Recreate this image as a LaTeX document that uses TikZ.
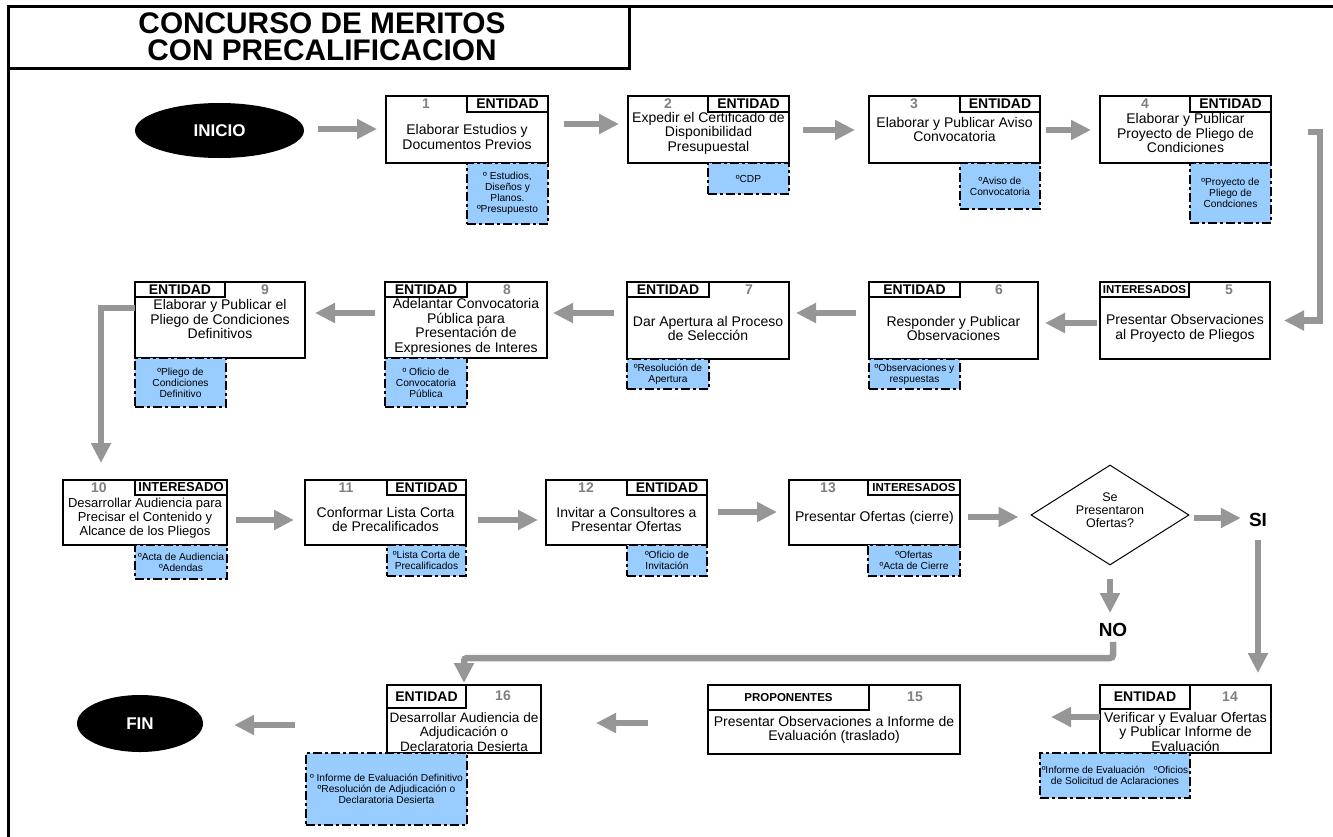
\documentclass[tikz,border=0pt]{standalone}
\usepackage{fontspec}
\setmainfont{Liberation Sans}
\usetikzlibrary{arrows.meta,shapes.geometric}
\definecolor{docblue}{RGB}{153,204,255}
\definecolor{arrgray}{RGB}{150,150,150}
\definecolor{numgray}{RGB}{128,128,128}
\newcommand{\mkbox}[7][]{\node[#1, minimum width={(#5-#3)*1pt}, minimum height={(#6-#4)*1pt}] (#2) at ({(#3+#5)/2},{(#4+#6)/2}) {#7};}
\tikzset{
  framest/.style={line width=3pt, line cap=rect},
  boxst/.style={draw, line width=2.2pt, fill=white, inner sep=0pt, outer sep=0pt},
  tagst/.style={draw, line width=2.2pt, fill=white, inner sep=0pt, outer sep=0pt, font=\bfseries\fontsize{14}{14}\selectfont},
  smalltag/.style={font=\bfseries\fontsize{11.5}{11.5}\selectfont},
  docst/.style={draw, line width=2.5pt, fill=docblue, dash pattern=on 9pt off 3pt on 3pt off 3pt, inner sep=0pt, outer sep=0pt, align=center, font=\fontsize{10.2}{11}\selectfont},
  garrow/.style={draw=arrgray, line width=6.5pt, -{Triangle[length=20pt,width=19pt]}},
  bodytxt/.style={align=center, inner sep=0pt, font=\fontsize{14}{14.5}\selectfont},
  numtxt/.style={inner sep=0pt, text=numgray, font=\bfseries\fontsize{14}{14}\selectfont},
  bigtxt/.style={inner sep=0pt, font=\bfseries\fontsize{29.8}{29.8}\selectfont},
  ovalst/.style={ellipse, fill=black, inner sep=0pt, text=white, font=\bfseries\fontsize{17}{17}\selectfont},
  decst/.style={inner sep=0pt, font=\bfseries\fontsize{19}{19}\selectfont},
}
\begin{document}
\begin{tikzpicture}[x=1pt,y=-1pt]
\useasboundingbox (0,0) rectangle (1333,836);
% frame and title
\draw[framest] (8,840) -- (8,6) -- (1340,6);
\draw[framest] (8,68) -- (629,68) -- (629,6);
\node[bigtxt] (tit1) at (322,23) {CONCURSO DE MERITOS};
\node[bigtxt] (tit2) at (322,50) {CON PRECALIFICACION};

% start / end
\node[ovalst, minimum width=169pt, minimum height=55pt] (ini) at (219.5,130.5) {INICIO};
\node[ovalst, minimum width=126pt, minimum height=57pt] (fin) at (140,723.5) {FIN};

% ---------- row 1
\mkbox[boxst]{b1}{386}{96}{548}{163}{}
\mkbox[docst]{d1}{467}{163}{548}{224}{º Estudios,\\Diseños y\\Planos.\\ºPresupuesto}
\mkbox[tagst]{b1t}{467}{96}{548}{112}{ENTIDAD}
\node[numtxt] (b1n) at (426,104) {1};
\node[bodytxt] (b1x) at (467,137) {Elaborar Estudios y\\Documentos Previos};

\mkbox[boxst]{b2}{628}{96}{789}{163}{}
\mkbox[docst]{d2}{708}{163}{789}{194}{ºCDP}
\mkbox[tagst]{b2t}{708}{96}{789}{112}{ENTIDAD}
\node[numtxt] (b2n) at (668,104) {2};
\node[bodytxt] (b2x) at (708.5,133) {Expedir el Certificado de\\Disponibilidad\\Presupuestal};

\mkbox[boxst]{b3}{869}{96}{1040}{163}{}
\mkbox[docst]{d3}{960}{163}{1040}{209}{ºAviso de\\Convocatoria}
\mkbox[tagst]{b3t}{960}{96}{1040}{112}{ENTIDAD}
\node[numtxt] (b3n) at (914,104) {3};
\node[bodytxt] (b3x) at (954.5,129.5) {Elaborar y Publicar Aviso\\Convocatoria};

\mkbox[boxst]{b4}{1100}{96}{1271}{163}{}
\mkbox[docst]{d4}{1190}{163}{1271}{223}{ºProyecto de\\Pliego de\\Condciones}
\mkbox[tagst]{b4t}{1190}{96}{1271}{112}{ENTIDAD}
\node[numtxt] (b4n) at (1145,104) {4};
\node[bodytxt] (b4x) at (1185.5,133) {Elaborar y Publicar\\Proyecto de Pliego de\\Condiciones};

% ---------- row 2
\mkbox[boxst]{b5}{1100}{282}{1270}{359}{}
\mkbox[tagst,smalltag]{b5t}{1100}{282}{1189}{297}{INTERESADOS}
\node[numtxt] (b5n) at (1229,290) {5};
\node[bodytxt] (b5x) at (1185,328.5) {Presentar Observaciones\\al Proyecto de Pliegos};

\mkbox[boxst]{b6}{869}{282}{1038}{359}{}
\mkbox[docst]{d6}{869}{359}{960}{389}{ºObservaciones y\\respuestas}
\mkbox[tagst]{b6t}{869}{282}{960}{297}{ENTIDAD}
\node[numtxt] (b6n) at (999,290) {6};
\node[bodytxt] (b6x) at (953.5,328.5) {Responder y Publicar\\Observaciones};

\mkbox[boxst]{b7}{627}{282}{789}{359}{}
\mkbox[docst]{d7}{627}{359}{709}{389}{ºResolución de\\Apertura}
\mkbox[tagst]{b7t}{627}{282}{709}{297}{ENTIDAD}
\node[numtxt] (b7n) at (749,290) {7};
\node[bodytxt] (b7x) at (708,328.5) {Dar Apertura al Proceso\\de Selección};

\mkbox[boxst]{b8}{385}{282}{547}{358}{}
\mkbox[docst]{d8}{385}{358}{467}{407}{º Oficio de\\Convocatoria\\Pública}
\mkbox[tagst]{b8t}{385}{282}{467}{297}{ENTIDAD}
\node[numtxt] (b8n) at (507,290) {8};
\node[bodytxt] (b8x) at (466,327) {Adelantar Convocatoria\\Pública para\\Presentación de\\Expresiones de Interes};

\mkbox[boxst]{b9}{135}{282}{305}{358}{}
\mkbox[docst]{d9}{135}{358}{226}{407}{ºPliego de\\Condiciones\\Definitivo}
\mkbox[tagst]{b9t}{135}{282}{225}{297}{ENTIDAD}
\node[numtxt] (b9n) at (265,290) {9};
\node[bodytxt] (b9x) at (220,319) {Elaborar y Publicar el\\Pliego de Condiciones\\Definitivos};

% ---------- row 3
\mkbox[boxst]{b10}{63}{480}{227}{545}{}
\mkbox[docst]{d10}{135}{545}{227}{579}{ºActa de Audiencia\\ºAdendas}
\mkbox[tagst]{b10t}{135}{480}{227}{495}{\fontsize{13}{13}\selectfont INTERESADO}
\node[numtxt] (b10n) at (99,488) {10};
\node[bodytxt, font=\fontsize{13}{14}\selectfont] (b10x) at (145,518.5) {Desarrollar Audiencia para\\Precisar el Contenido y\\Alcance de los Pliegos};

\mkbox[boxst]{b11}{305}{480}{466}{545}{}
\mkbox[docst]{d11}{387}{545}{466}{576}{ºLista Corta de\\Precalificados}
\mkbox[tagst]{b11t}{387}{480}{466}{495}{ENTIDAD}
\node[numtxt] (b11n) at (346,488) {11};
\node[bodytxt] (b11x) at (385.5,519.5) {Conformar Lista Corta\\de Precalificados};

\mkbox[boxst]{b12}{546}{480}{707}{545}{}
\mkbox[docst]{d12}{627}{545}{707}{576}{ºOficio de\\Invitación}
\mkbox[tagst]{b12t}{627}{480}{707}{495}{ENTIDAD}
\node[numtxt] (b12n) at (586,488) {12};
\node[bodytxt] (b12x) at (626.5,519.5) {Invitar a Consultores a\\Presentar Ofertas};

\mkbox[boxst]{b13}{789}{480}{960}{545}{}
\mkbox[docst]{d13}{868}{545}{960}{576}{ºOfertas\\ºActa de Cierre}
\mkbox[tagst,smalltag]{b13t}{868}{480}{960}{495}{INTERESADOS}
\node[numtxt] (b13n) at (828,488) {13};
\node[bodytxt] (b13x) at (874.5,518) {Presentar Ofertas (cierre)};

\node[diamond, draw, line width=1pt, minimum width=158pt, minimum height=100pt, inner sep=0pt] (dia) at (1110,515) {};
\node[align=center, inner sep=0pt, font=\fontsize{12.5}{13}\selectfont] (diax) at (1110,510) {Se\\Presentaron\\Ofertas?};
\node[decst] (silab) at (1258,520) {SI};
\node[decst] (nolab) at (1113,630) {NO};

% ---------- row 4
\mkbox[boxst]{b14}{1100}{685}{1271}{753}{}
\mkbox[docst]{d14}{1040}{753}{1190}{798}{\fontsize{10}{11}\selectfont ºInforme de Evaluación\hspace{9pt}ºOficios\\de Solicitud de Aclaraciones}
\mkbox[tagst]{b14t}{1100}{685}{1190}{709}{ENTIDAD}
\node[numtxt] (b14n) at (1230,697) {14};
\node[bodytxt] (b14x) at (1185.5,731.5) {Verificar y Evaluar Ofertas\\y Publicar Informe de\\Evaluación};

\mkbox[boxst]{b15}{708}{685}{960}{754}{}
\mkbox[tagst,smalltag]{b15t}{708}{685}{869}{710}{PROPONENTES}
\node[numtxt] (b15n) at (915,697) {15};
\node[bodytxt] (b15x) at (834,730) {Presentar Observaciones a Informe de\\Evaluación (traslado)};

\mkbox[boxst]{b16}{387}{685}{541}{753}{}
\mkbox[docst]{d16}{306}{753}{467}{825}{º Informe de Evaluación Definitivo\\ºResolución de Adjudicación o\\Declaratoria Desierta}
\mkbox[tagst]{b16t}{387}{685}{466}{708}{ENTIDAD}
\node[numtxt] (b16n) at (503,696) {16};
\node[bodytxt, font=\fontsize{13.6}{14.5}\selectfont] (b16x) at (464,732) {Desarrollar Audiencia de\\Adjudicación o\\Declaratoria Desierta};

% ---------- connectors
\draw[garrow, shorten <=14pt, shorten >=9pt] ([yshift=1.5pt]ini.east) -- ([yshift=1.5pt]ini.east -| b1.west);
\draw[garrow, shorten <=16pt, shorten >=9pt] ([yshift=5.5pt]b1.east) -- ([yshift=5.5pt]b1.east -| b2.west);
\draw[garrow, shorten <=14pt, shorten >=14pt] ([yshift=-0.5pt]b2.east) -- ([yshift=-0.5pt]b2.east -| b3.west);
\draw[garrow, shorten <=6pt, shorten >=9pt] ([yshift=-0.5pt]b3.east) -- ([yshift=-0.5pt]b3.east -| b4.west);
\coordinate (c45) at (1308,132);
\draw[garrow, shorten >=14pt] (c45) -- ++(12,0) |- (b5.east);
\draw[garrow, shorten <=3pt, shorten >=7pt] ([yshift=-2.5pt]b5.west) -- ([yshift=-2.5pt]b5.west -| b6.east);
\draw[garrow, shorten <=13pt, shorten >=7pt] ([yshift=7.5pt]b6.west) -- ([yshift=7.5pt]b6.west -| b7.east);
\draw[garrow, shorten <=13pt, shorten >=6pt] ([yshift=7.5pt]b7.west) -- ([yshift=7.5pt]b7.west -| b8.east);
\draw[garrow, shorten <=10pt, shorten >=10pt] ([yshift=7pt]b8.west) -- ([yshift=7pt]b8.west -| b9.east);
\draw[garrow, shorten >=17pt] ([yshift=12pt]b9.west) -| ([xshift=-44pt]b10.north);
\draw[garrow, shorten <=9pt, shorten >=11pt] ([yshift=-7.5pt]b10.east) -- ([yshift=-7.5pt]b10.east -| b11.west);
\draw[garrow, shorten <=12pt, shorten >=8pt] ([yshift=-7.5pt]b11.east) -- ([yshift=-7.5pt]b11.east -| b12.west);
\draw[garrow, shorten <=11pt, shorten >=12pt] ([yshift=0.5pt]b12.east) -- ([yshift=0.5pt]b12.east -| b13.west);
\draw[garrow, shorten <=8pt, shorten >=12pt] ([yshift=-4.5pt]b13.east) -- ([yshift=-4.5pt]b13.east -| dia.west);
\draw[garrow, shorten <=4pt, shorten >=8pt] ([yshift=-3pt]dia.east) -- ([yshift=-3pt]dia.east -| silab.west);
\draw[garrow, shorten <=13pt, shorten >=10pt] (dia.south) -- (dia.south |- nolab.north);
\draw[garrow, shorten <=13pt, shorten >=12pt] (silab.south) -- (silab.south |- b14.north);
\coordinate (nocorner) at (1113,658);
\draw[garrow, rounded corners=3pt, shorten <=5pt, shorten >=2pt] (nolab.south) -- (nocorner) -| (b16.north);
\draw[garrow, shorten >=91pt] ([yshift=2pt]b14.west) -- ([yshift=2pt]b14.west -| b15.east);
\draw[garrow, shorten <=60pt, shorten >=55pt] ([yshift=-3.5pt]b15.west) -- ([yshift=-3.5pt]b15.west -| b16.east);
\draw[garrow, shorten <=92pt, shorten >=31pt] ([yshift=-6pt]b16.west) -- ([yshift=-6pt]b16.west -| fin.east);
\end{tikzpicture}
\end{document}
